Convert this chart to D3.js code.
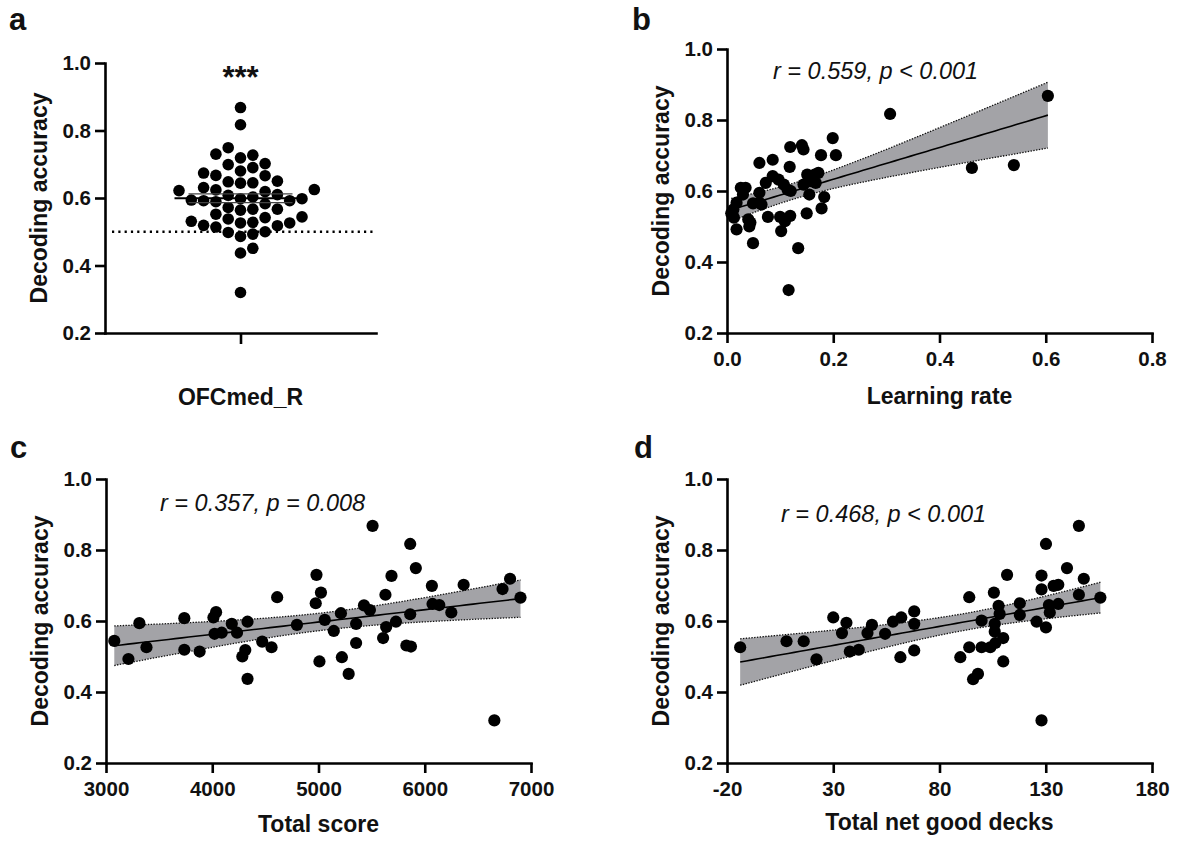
<!DOCTYPE html>
<html>
<head>
<meta charset="utf-8">
<script src="https://cdn.jsdelivr.net/npm/d3@7"></script>
<style>
  body { margin: 0; background: #fff; }
  svg { display: block; font-family: "Liberation Sans", Arial, sans-serif; }
</style>
</head>
<body>
<svg id="chart" width="1181" height="841"></svg>
<script>
// panel b: learning rate vs decoding accuracy
const learningRate = [0.008,0.013,0.012,0.018,0.018,0.026,0.030,0.035,0.040,0.042,0.044,0.049,0.049,0.061,0.061,0.061,0.065,0.077,0.073,0.086,0.086,0.097,0.100,0.102,0.107,0.109,0.114,0.118,0.119,0.119,0.116,0.120,0.134,0.141,0.144,0.144,0.150,0.151,0.155,0.157,0.165,0.167,0.172,0.177,0.178,0.183,0.199,0.205,0.307,0.461,0.540,0.604]
const accB = [0.537,0.525,0.548,0.567,0.492,0.609,0.590,0.609,0.520,0.500,0.511,0.565,0.453,0.679,0.595,0.567,0.562,0.527,0.623,0.688,0.642,0.632,0.527,0.487,0.618,0.515,0.604,0.668,0.530,0.724,0.321,0.600,0.439,0.729,0.717,0.618,0.537,0.646,0.590,0.628,0.646,0.623,0.651,0.701,0.551,0.583,0.749,0.701,0.817,0.665,0.673,0.868]

// panel c: total score
const totalScore = [3078,3211,3314,3381,3737,3737,3881,4011,4036,4022,4089,4184,4233,4283,4311,4332,4332,4470,4558,4611,4797,4981,4974,5023,5009,5059,5144,5211,5220,5284,5354,5354,5428,5484,5509,5608,5630,5637,5687,5729,5827,5863,5863,5870,5916,6067,6073,6137,6250,6366,6655,6732,6803,6901]
const accC = [0.544,0.493,0.594,0.526,0.608,0.519,0.514,0.610,0.625,0.564,0.567,0.592,0.567,0.500,0.518,0.598,0.437,0.542,0.526,0.667,0.589,0.730,0.650,0.680,0.486,0.603,0.572,0.622,0.498,0.451,0.538,0.592,0.644,0.631,0.868,0.552,0.674,0.583,0.727,0.598,0.531,0.817,0.619,0.528,0.749,0.699,0.648,0.645,0.624,0.702,0.320,0.690,0.719,0.666]

// panel d: total net good decks
const netGood = [-13.8,8.0,16.1,22.1,30.0,34.1,36.2,37.8,42.0,46.1,48.2,54.4,58.1,62.0,61.6,68.1,68.1,68.1,89.8,94.0,94.0,95.8,98.1,99.8,99.8,103.9,105.6,106.0,106.0,106.3,107.8,108.3,110.0,110.0,111.8,117.8,117.8,125.7,128.0,128.0,128.0,130.1,130.1,131.5,131.9,133.7,135.9,135.9,140.0,145.6,145.6,147.9,155.7]
const accD = [0.526,0.543,0.543,0.492,0.610,0.566,0.595,0.514,0.519,0.566,0.589,0.564,0.598,0.610,0.498,0.627,0.592,0.517,0.498,0.667,0.526,0.436,0.451,0.601,0.526,0.526,0.680,0.592,0.570,0.538,0.643,0.620,0.552,0.486,0.730,0.650,0.617,0.598,0.728,0.689,0.320,0.817,0.582,0.645,0.624,0.699,0.702,0.648,0.749,0.674,0.868,0.719,0.666]

// panel a: region accuracy (same subjects)
const regionName = ["OFCmed_R"]
const accA = accC
const chance = 0.5

const yTicks = [0.2, 0.4, 0.6, 0.8, 1.0]
const xTicksB = [0.0, 0.2, 0.4, 0.6, 0.8]
const xTicksC = [3000, 4000, 5000, 6000, 7000]
const xTicksD = [-20, 30, 80, 130, 180]

const statB = "r = 0.559, p < 0.001"
const statC = "r = 0.357, p = 0.008"
const statD = "r = 0.468, p < 0.001"

const svg = d3.select("#chart")
const R = 6.1

function styleAxis(g) {
  g.select(".domain").attr("stroke", "#000").attr("stroke-width", 2.6).attr("stroke-linecap", "square")
  g.selectAll(".tick line").attr("stroke", "#000").attr("stroke-width", 2.6)
  g.selectAll(".tick text")
    .attr("fill", "#111")
    .style("font-size", "20.5px")
    .style("font-weight", 700)
    .style("font-family", '"Liberation Sans", Arial, sans-serif')
}

function yAxis(g, y, left) {
  g.append("g")
    .attr("transform", `translate(${left},0)`)
    .call(d3.axisLeft(y).tickValues(yTicks).tickFormat(d3.format(".1f")).tickSize(10).tickSizeOuter(0).tickPadding(4))
    .call(styleAxis)
}

function yTitle(g, x, y) {
  g.append("text")
    .attr("transform", `translate(${x},${y}) rotate(-90)`)
    .attr("text-anchor", "middle")
    .style("font-size", "23px")
    .style("font-weight", 700)
    .attr("fill", "#111")
    .text("Decoding accuracy")
}

function panelLetter(g, x, y, t) {
  g.append("text").attr("x", x).attr("y", y)
    .style("font-size", "31px").style("font-weight", 700).attr("fill", "#111")
    .text(t)
}

// linear fit with 95% confidence band
function fit(xs, ys) {
  let n = xs.length
  let mx = d3.mean(xs), my = d3.mean(ys)
  let sxx = d3.sum(xs, x => (x - mx) ** 2)
  let sxy = d3.sum(xs, (x, i) => (x - mx) * (ys[i] - my))
  let b = sxy / sxx, a = my - b * mx
  let s = Math.sqrt(d3.sum(xs, (x, i) => (ys[i] - a - b * x) ** 2) / (n - 2))
  let t = 2.007
  let ext = d3.extent(xs)
  let pts = d3.range(0, 61).map(k => {
    let x = ext[0] + (ext[1] - ext[0]) * k / 60
    let yh = a + b * x
    let h = t * s * Math.sqrt(1 / n + (x - mx) ** 2 / sxx)
    return { x, yh, lo: yh - h, hi: yh + h }
  })
  return pts
}

function scatterPanel(opt) {
  let g = svg.append("g")
  let x = d3.scaleLinear().domain(d3.extent(opt.xTicks)).range([opt.left, opt.right])
  let y = d3.scaleLinear().domain([0.2, 1.0]).range([opt.bottom, opt.top])

  let band = fit(opt.xs, opt.ys)
  g.append("path")
    .datum(band)
    .attr("fill", "#a3a3a7")
    .attr("d", d3.area().x(d => x(d.x)).y0(d => y(d.lo)).y1(d => y(d.hi)))
  ;["lo", "hi"].forEach(k => {
    g.append("path")
      .datum(band)
      .attr("fill", "none")
      .attr("stroke", "#111")
      .attr("stroke-width", 1.3)
      .attr("stroke-dasharray", "1.4,1.4")
      .attr("d", d3.line().x(d => x(d.x)).y(d => y(d[k])))
  })
  g.append("path")
    .datum(band)
    .attr("fill", "none")
    .attr("stroke", "#000")
    .attr("stroke-width", 1.6)
    .attr("d", d3.line().x(d => x(d.x)).y(d => y(d.yh)))

  g.append("g")
    .attr("transform", `translate(0,${opt.bottom})`)
    .call(d3.axisBottom(x).tickValues(opt.xTicks).tickFormat(opt.fmt).tickSize(10).tickSizeOuter(0).tickPadding(8))
    .call(styleAxis)
  yAxis(g, y, opt.left)

  g.selectAll("circle.pt")
    .data(opt.xs.map((v, i) => [v, opt.ys[i]]))
    .join("circle")
    .attr("class", "pt")
    .attr("cx", d => x(d[0]))
    .attr("cy", d => y(d[1]))
    .attr("r", R)
    .attr("fill", "#000")

  g.append("text")
    .attr("x", opt.statX).attr("y", opt.statY)
    .style("font-size", "23.5px").style("font-style", "italic").attr("fill", "#111")
    .text(opt.stat)

  g.append("text")
    .attr("x", (opt.left + opt.right) / 2).attr("y", opt.titleY)
    .attr("text-anchor", "middle")
    .style("font-size", "23px").style("font-weight", 700).attr("fill", "#111")
    .text(opt.xTitle)

  yTitle(g, opt.left - 58, (opt.top + opt.bottom) / 2)
  panelLetter(g, opt.letterX, opt.letterY, opt.letter)
}

// panel a: scatter dot plot with mean +- SEM
function dotPanel() {
  let g = svg.append("g")
  let left = 105, right = 376, top = 63, bottom = 333
  let x = d3.scalePoint().domain(regionName).range([left, right]).padding(0.5)
  let y = d3.scaleLinear().domain([0.2, 1.0]).range([bottom, top])
  let cx = x(regionName[0])

  g.append("line")
    .attr("x1", left + 7).attr("x2", right)
    .attr("y1", y(chance)).attr("y2", y(chance))
    .attr("stroke", "#000").attr("stroke-width", 2.4)
    .attr("stroke-dasharray", "2.2,4.1")

  g.append("g")
    .attr("transform", `translate(0,${bottom})`)
    .call(d3.axisBottom(x).tickSize(11).tickSizeOuter(0).tickFormat(""))
    .call(styleAxis)
  yAxis(g, y, left)

  // place each dot in the nearest free column on a fixed grid
  let step = 12.3, minGap = 11.2
  let placed = []
  accA.map(v => ({ v, py: y(v) }))
    .sort((p, q) => p.v - q.v)
    .forEach(p => {
      for (let k = 0; k < 30; k++) {
        let col = k % 2 ? (k + 1) / 2 : -k / 2
        let clash = placed.some(q => q.col === col && Math.abs(q.py - p.py) < minGap)
        if (!clash) { placed.push({ col, py: p.py }); break }
      }
    })

  g.selectAll("circle.pt")
    .data(placed)
    .join("circle")
    .attr("class", "pt")
    .attr("cx", d => cx + d.col * step)
    .attr("cy", d => d.py)
    .attr("r", 5.8)
    .attr("fill", "#000")

  let m = d3.mean(accA)
  let sem = d3.deviation(accA) / Math.sqrt(accA.length)
  ;[m - sem, m + sem].forEach(v => {
    g.append("line")
      .attr("x1", cx - 52).attr("x2", cx + 52)
      .attr("y1", y(v)).attr("y2", y(v))
      .attr("stroke", "#444").attr("stroke-width", 1.2)
  })
  g.append("line")
    .attr("x1", cx - 66).attr("x2", cx + 66)
    .attr("y1", y(m)).attr("y2", y(m))
    .attr("stroke", "#000").attr("stroke-width", 2)

  g.append("text")
    .attr("x", cx).attr("y", 88)
    .attr("text-anchor", "middle")
    .style("font-size", "31px").style("font-weight", 700).attr("fill", "#111")
    .text("***")

  g.append("text")
    .attr("x", cx).attr("y", 405)
    .attr("text-anchor", "middle")
    .style("font-size", "23px").style("font-weight", 700).attr("fill", "#111")
    .text(regionName[0])

  yTitle(g, left - 58, (top + bottom) / 2)
  panelLetter(g, 9, 30, "a")
}

dotPanel()

scatterPanel({
  xs: learningRate, ys: accB, xTicks: xTicksB, fmt: d3.format(".1f"),
  left: 727, right: 1152, top: 49, bottom: 333,
  stat: statB, statX: 773, statY: 79,
  xTitle: "Learning rate", titleY: 404,
  letter: "b", letterX: 632, letterY: 30
})

scatterPanel({
  xs: totalScore, ys: accC, xTicks: xTicksC, fmt: d => String(d),
  left: 106, right: 531, top: 479, bottom: 763,
  stat: statC, statX: 160, statY: 511,
  xTitle: "Total score", titleY: 832,
  letter: "c", letterX: 10, letterY: 458
})

scatterPanel({
  xs: netGood, ys: accD, xTicks: xTicksD, fmt: d => String(d),
  left: 727, right: 1152, top: 479, bottom: 763,
  stat: statD, statX: 781, statY: 522,
  xTitle: "Total net good decks", titleY: 830,
  letter: "d", letterX: 634, letterY: 458
})
</script>
</body>
</html>
